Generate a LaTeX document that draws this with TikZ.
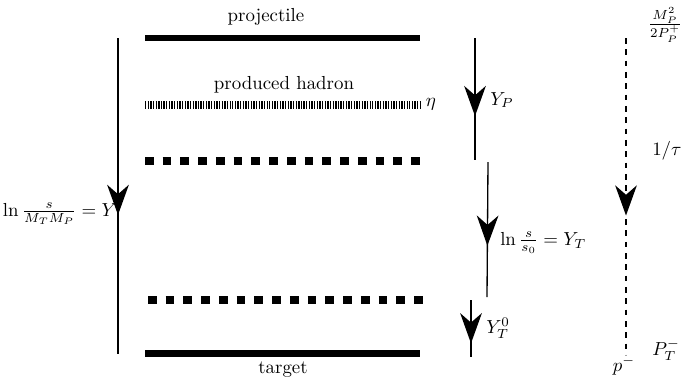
\documentclass[tikz,border=0pt]{standalone}
\usepackage{amsmath}
\usetikzlibrary{arrows.meta, decorations.markings}
\tikzset{
    beam/.style={draw=black, line width=3.7pt},
    hadronline/.style={draw=black, line width=4.3pt, dash pattern=on 0.7pt off 0.7pt},
    rapline/.style={draw=black, line width=4.7pt, dash pattern=on 4.6pt off 4.8pt},
    axisline/.style={draw=black, line width=0.7pt},
    midarrow/.style={postaction={decorate, decoration={markings,
        mark=at position #1 with {\arrow{Stealth[length=16pt, width=11.5pt, inset=5pt]}}}}},
    label/.style={inner sep=1pt}
}
\begin{document}
\begin{tikzpicture}[x=0.53pt, y=-0.53pt]
\useasboundingbox (0,0) rectangle (681,380);

% Horizontal lines
\coordinate (projL) at (145,38);  \coordinate (projR) at (420,38);
\coordinate (hadL) at (145,105);  \coordinate (hadR) at (420,105);
\coordinate (rapPL) at (145,161); \coordinate (rapPR) at (420,161);
\coordinate (rapTL) at (148,300); \coordinate (rapTR) at (424,300);
\coordinate (targL) at (145,353); \coordinate (targR) at (420,353);

\draw[beam] (projL) -- (projR);
\draw[hadronline] (hadL) -- (hadR);
\draw[rapline] (rapPL) -- (rapPR);
\draw[rapline] (rapTL) -- (rapTR);
\draw[beam] (targL) -- (targR);

\node[label] (proj) at (266,17) {projectile};
\node[label] (had) at (284,85) {produced hadron};
\node[label] (eta) at (431,104) {$\eta$};
\node[label] (targ) at (283,370) {target};

% Total rapidity
\coordinate (ytop) at (118,38);  \coordinate (ybot) at (118,354);
\draw[axisline, midarrow=0.56] (ytop) -- (ybot);
\node[label, anchor=east] (ytot) at (119,214) {$\ln\frac{s}{M_T M_P}=Y$};

% Projectile rapidity
\coordinate (yptop) at (475,38);  \coordinate (ypbot) at (475,160);
\draw[axisline, midarrow=0.64] (yptop) -- (ypbot);
\node[label, anchor=west] (yp) at (488,100) {$Y_P$};

% Target rapidity
\coordinate (yttop) at (488,162); \coordinate (ytbot) at (487,297);
\draw[axisline, midarrow=0.62] (yttop) -- (ytbot);
\node[label, anchor=west] (yt) at (498,243) {$\ln\frac{s}{s_0}=Y_T$};

% Residual rapidity
\coordinate (ytztop) at (471,300); \coordinate (ytzbot) at (471,357);
\draw[axisline, midarrow=0.76] (ytztop) -- (ytzbot);
\node[label, anchor=west] (ytz) at (484,328) {$Y_T^0$};

% Light-cone momentum
\coordinate (ptop) at (626,38);  \coordinate (pbot) at (626,355);
\draw[axisline, dashed, midarrow=0.56] (ptop) -- (pbot);
\node[label] (pmax) at (665,25) {$\frac{M_P^2}{2P_P^+}$};
\node[label, anchor=west] (tau) at (650,151) {$1/\tau$};
\node[label, anchor=west] (ptm) at (650,350) {$P_T^-$};
\node[label] (pm) at (624,366) {$p^-$};

\end{tikzpicture}
\end{document}
